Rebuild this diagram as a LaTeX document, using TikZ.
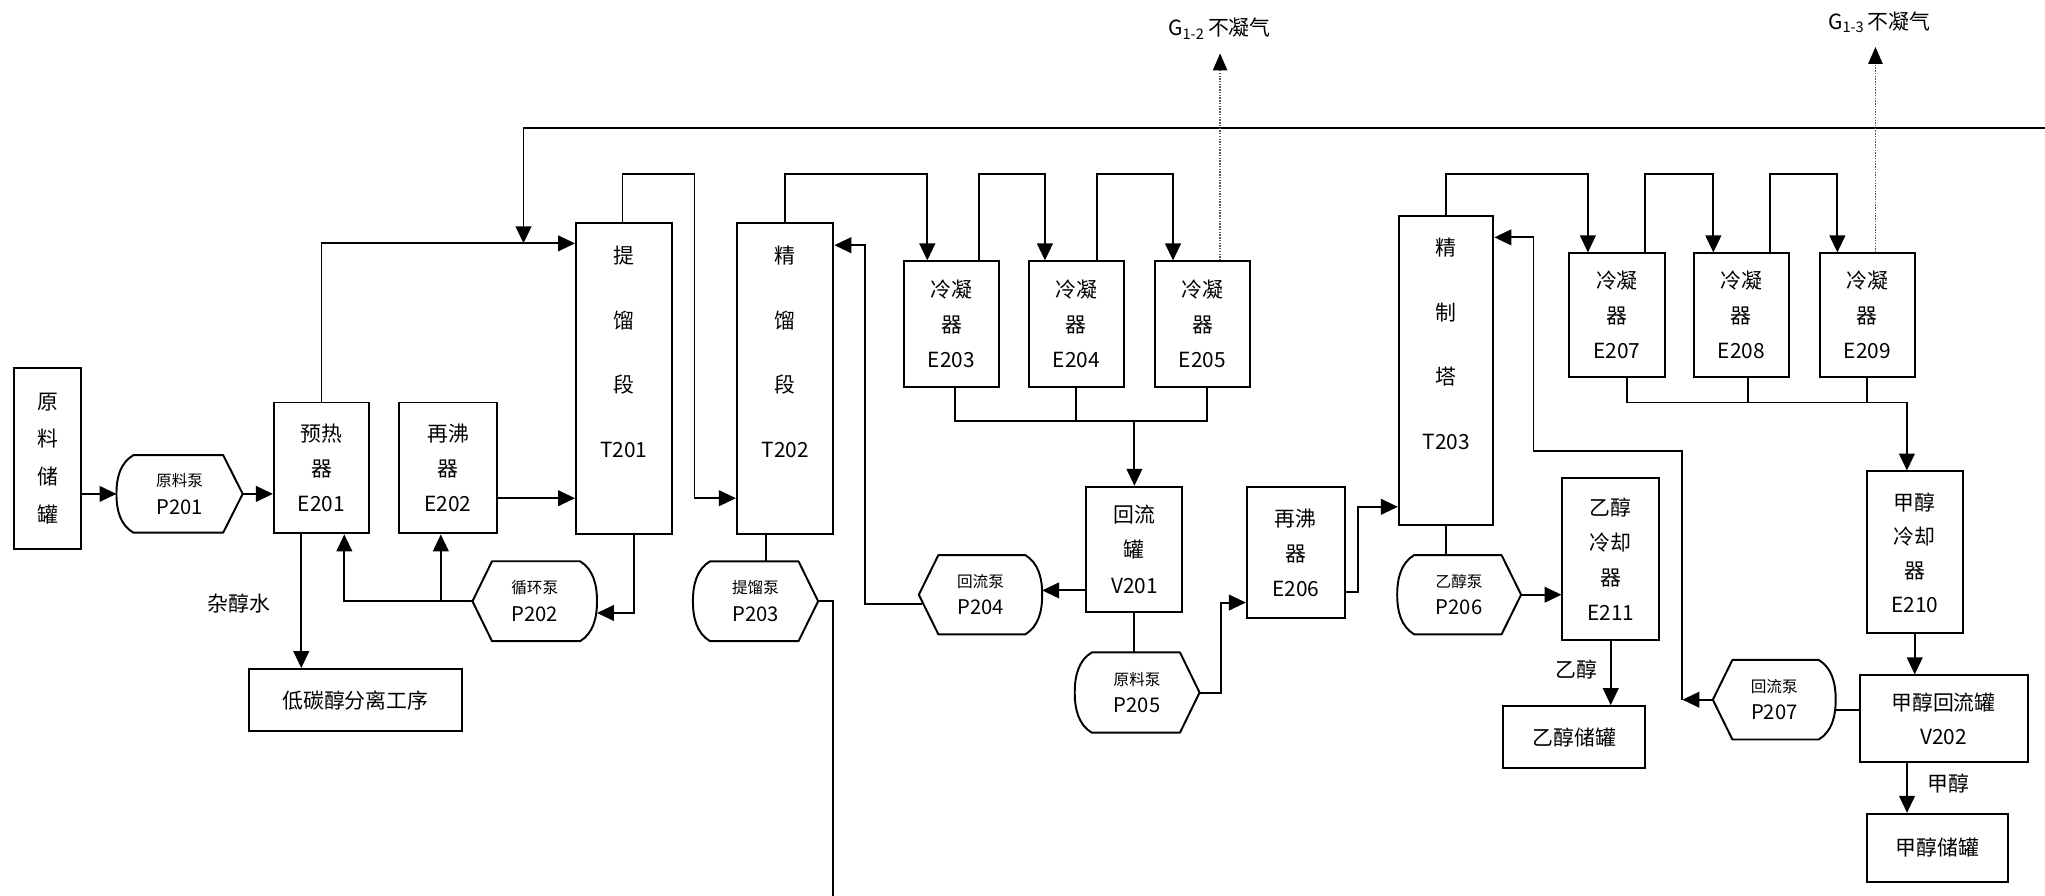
\documentclass[tikz,border=0pt]{standalone}
\usepackage{fontspec}
\setmainfont{Noto Sans CJK SC}
\usetikzlibrary{arrows.meta,calc}
\newcommand\pumpR[1]{\draw[line join=round] ($(#1.north west)+(13,0)$) -- ($(#1.north east)+(-15,0)$) -- (#1.east) -- ($(#1.south east)+(-15,0)$) -- ($(#1.south west)+(13,0)$) .. controls ($(#1.south west)+(3,-6)$) and ($(#1.west)+(0,13)$) .. (#1.west) .. controls ($(#1.west)+(0,-13)$) and ($(#1.north west)+(3,6)$) .. cycle;}
\newcommand\pumpL[1]{\draw[line join=round] ($(#1.north east)+(-13,0)$) -- ($(#1.north west)+(15,0)$) -- (#1.west) -- ($(#1.south west)+(15,0)$) -- ($(#1.south east)+(-13,0)$) .. controls ($(#1.south east)+(-3,-6)$) and ($(#1.east)+(0,13)$) .. (#1.east) .. controls ($(#1.east)+(0,-13)$) and ($(#1.north east)+(-3,6)$) .. cycle;}
\begin{document}
\begin{tikzpicture}[x=1pt,y=-1pt,line width=1.5pt,
  box/.style={draw, inner sep=0pt, align=center, font=\fontsize{16}{27}\selectfont},
  sz/.style 2 args={minimum width=#1pt, minimum height=#2pt},
  pump/.style={inner sep=0pt, align=center, font=\fontsize{15.5}{21}\selectfont},
  tw/.style={inner sep=0pt, align=center, font=\fontsize{16}{49.6}\selectfont},
  txt/.style={inner sep=0pt, font=\fontsize{16}{20}\selectfont},
  arr/.style={-{Triangle[length=13pt,width=12pt]}},
  dotl/.style={densely dotted, line width=1.1pt, draw=black!65, -{Triangle[length=13pt,width=11pt,color=black]}}]
\fill[white] (0,0) rectangle (1568,687);
\useasboundingbox (0,0) rectangle (1568,687);

% ---------- nodes ----------
\node[box, sz={51}{139}, font=\fontsize{16}{29}\selectfont] (tank) at (36.5,351.5) {原\\料\\储\\罐};
\node[pump, sz={95.3}{58}] (P201) at (137.7,378.7) {{\fontsize{12}{14}\selectfont 原料泵}\\P201};
\node[box, sz={73}{100.4}] (E201) at (246.5,358.8) {预热\\器\\E201};
\node[box, sz={75}{100.4}] (E202) at (343.5,358.8) {再沸\\器\\E202};
\node[box, sz={163}{47.6}] (low) at (272.5,536.8) {低碳醇分离工序};
\node[pump, sz={94}{59.8}] (P202) at (410,461) {{\fontsize{12}{14}\selectfont 循环泵}\\P202};
\node[box, sz={73.3}{238.2}] (T201) at (478.3,290.4) {};
\node[tw] (T201t) at ($(T201.north)+(0,99.2)$) {提\\馏\\段\\T201};
\node[box, sz={74}{238.2}] (T202) at (602,290.4) {};
\node[tw] (T202t) at ($(T202.north)+(0,99.2)$) {精\\馏\\段\\T202};
\node[pump, sz={94.5}{59.6}] (P203) at (579.3,461) {{\fontsize{12}{14}\selectfont 提馏泵}\\P203};
\node[box, sz={72.6}{96.1}] (E203) at (729.5,248.5) {冷凝\\器\\E203};
\node[box, sz={72.9}{96.1}] (E204) at (825.2,248.5) {冷凝\\器\\E204};
\node[box, sz={72.9}{96.1}] (E205) at (922,248.5) {冷凝\\器\\E205};
\node[box, sz={73.6}{95.8}] (V201) at (869.8,421.1) {回流\\罐\\V201};
\node[pump, sz={93.1}{59.3}] (P204) at (751.8,456) {{\fontsize{12}{14}\selectfont 回流泵}\\P204};
\node[pump, sz={94.2}{60}] (P205) at (871.9,531) {{\fontsize{12}{14}\selectfont 原料泵}\\P205};
\node[box, sz={75}{101}] (E206) at (993.5,423.7) {再沸\\器\\E206};
\node[box, sz={72.5}{236.8}] (T203) at (1108.8,284.2) {};
\node[tw] (T203t) at ($(T203.north)+(0,98.7)$) {精\\制\\塔\\T203};
\node[pump, sz={93.5}{59.3}] (P206) at (1118.8,456) {{\fontsize{12}{14}\selectfont 乙醇泵}\\P206};
\node[box, sz={74}{124}] (E211) at (1235,428.8) {乙醇\\冷却\\器\\E211};
\node[box, sz={108.7}{47.8}] (etank) at (1207,565.3) {乙醇储罐};
\node[box, sz={73.6}{94.6}] (E207) at (1239.8,241.6) {冷凝\\器\\E207};
\node[box, sz={72.6}{94.6}] (E208) at (1335.2,241.6) {冷凝\\器\\E208};
\node[box, sz={72.6}{94.6}] (E209) at (1431.8,241.6) {冷凝\\器\\E209};
\node[box, sz={73.8}{124.2}, font=\fontsize{16}{26}\selectfont] (E210) at (1468.1,423.6) {甲醇\\冷却\\器\\E210};
\node[box, sz={128.8}{66.3}, font=\fontsize{16}{26}\selectfont] (V202) at (1490.2,551) {甲醇回流罐\\V202};
\node[pump, sz={92.7}{59.5}] (P207) at (1360.4,536.5) {{\fontsize{12}{14}\selectfont 回流泵}\\P207};
\node[box, sz={108.5}{52}] (mtank) at (1485.5,650) {甲醇储罐};

\pumpR{P201} \pumpL{P202} \pumpR{P203} \pumpL{P204} \pumpR{P205} \pumpR{P206} \pumpL{P207}

% labels
\node[txt] (zcs) at (183,463) {杂醇水};
\node[txt] (ylab) at (1209,513) {乙醇};
\node[txt] (mlab) at (1494,601) {甲醇};
\node[txt] (g12) at (935,22) {G\textsubscript{1-2}\,不凝气};
\node[txt] (g13) at (1441,17) {G\textsubscript{1-3}\,不凝气};

% ---------- helper coordinates ----------
\coordinate (rr) at (1568,98.4);
\coordinate (tl) at (401.4,98.4);
\coordinate (j1) at (401.4,186.6);
\coordinate (h382) at (0,382);
\coordinate (h470) at (0,470);
\coordinate (hTop) at (0,133.6);
\coordinate (x532) at (532.5,0);
\coordinate (x638) at (638.5,687);
\coordinate (h322) at (0,322.6);
\coordinate (h453) at (0,452.7);
\coordinate (x663) at (663,188);
\coordinate (x936) at (936.3,462);
\coordinate (h4537) at (0,453.7);
\coordinate (c1041) at (1041.3,388.6);
\coordinate (h41) at (0,41);
\coordinate (h36) at (0,36);
\coordinate (h308) at (0,308.6);
\coordinate (h544) at (0,544.5);
\coordinate (x1290) at (1290,345.8);
\coordinate (c1176) at (1175.8,182);

% ---------- connectors ----------
\draw[arr] (tank.east |- P201.west) -- (P201.west);
\draw[arr] (P201.east) -- (E201.west |- P201.east);
\draw[arr] (E201.north) |- (T201.west |- j1);
\draw[arr] (rr) -- (tl) -- (j1);
\draw[arr] (E202.east |- h382) -- (T201.west |- h382);
\draw[arr] ($(E201.south)+(-15.5,0)$) coordinate (e201o) -- (e201o |- low.north);
\draw[arr] ($(T201.south)+(8,0)$) coordinate (t201b) -- (t201b |- h470) -- (P202.east |- h470);
\draw[arr] (P202.west) -| ($(E201.south)+(17.5,0)$);
\coordinate (e202i) at ($(E202.south)+(-5.5,0)$);
\draw[arr] (e202i |- P202.west) -- (e202i);
\draw[arr] ($(T201.north)+(-1,0)$) coordinate (t201t) -- (t201t |- hTop) -- (x532 |- hTop) -- (x532 |- h382) -- (T202.west |- h382);
\draw ($(T202.south)+(-15,0)$) coordinate (t202b) -- (t202b |- P203.north);
\draw (P203.east) -- (P203.east -| x638) -- (x638);
\draw[arr] (T202.north) -- (T202.north |- hTop) -| ($(E203.north)+(-18.5,0)$);
\draw[arr] ($(E203.north)+(21,0)$) coordinate (e203o) -- (e203o |- hTop) -| ($(E204.north)+(-24,0)$);
\draw[arr] ($(E204.north)+(15.6,0)$) coordinate (e204o) -- (e204o |- hTop) -| ($(E205.north)+(-22.6,0)$);
\draw[dotl] ($(E205.north)+(13.5,0)$) coordinate (e205o) -- (e205o |- h41);
\draw ($(E203.south)+(2.5,0)$) coordinate (e203b) -- (e203b |- h322) -- ($(E205.south |- h322)+(3.5,0)$) coordinate (e205c) -- (e205c |- E205.south);
\draw (E204.south) -- (E204.south |- h322);
\draw[arr] (V201.north |- h322) -- (V201.north);
\draw[arr] (V201.west |- h453) -- (P204.east |- h453);
\draw[arr] ($(P204.west)+(2.6,7)$) coordinate (p204o) -- (p204o -| x663) -- (x663) -- (T202.east |- x663);
\draw (V201.south) -- (V201.south |- P205.north);
\draw[arr] (P205.east) -- (P205.east -| x936) -- (x936) -- (E206.west |- x936);
\draw[arr] (E206.east |- h4537) -- (c1041 |- h4537) -- (c1041) -- (T203.west |- c1041);
\draw (T203.south) -- (T203.south |- P206.north);
\draw[arr] (P206.east) -- (E211.west |- P206.east);
\draw[arr] (E211.south) -- (E211.south |- etank.north);
\draw[arr] (T203.north) -- (T203.north |- hTop) -| ($(E207.north)+(-22.3,0)$);
\draw[arr] ($(E207.north)+(21.7,0)$) coordinate (e207o) -- (e207o |- hTop) -| ($(E208.north)+(-21.5,0)$);
\draw[arr] ($(E208.north)+(22,0)$) coordinate (e208o) -- (e208o |- hTop) -| ($(E209.north)+(-23,0)$);
\draw[dotl] ($(E209.north)+(6.2,0)$) coordinate (e209o) -- (e209o |- h36);
\coordinate (e210i) at ($(E210.north)+(-6,0)$);
\draw ($(E207.south)+(7.6,0)$) coordinate (e207b) -- (e207b |- h308) -- (e210i |- h308);
\draw ($(E208.south)+(5,0)$) coordinate (e208b) -- (e208b |- h308);
\draw (E209.south) -- (E209.south |- h308);
\draw[arr] (e210i |- h308) -- (e210i);
\draw[arr] (E210.south) -- (E210.south |- V202.north);
\draw (V202.west |- h544) -- (P207.east |- h544);
\draw[arr] (P207.west) -- (P207.west -| x1290);
\draw[arr] (P207.west -| x1290) -- (x1290) -- (c1176 |- x1290) -- (c1176) -- (T203.east |- c1176);
\coordinate (v202o) at ($(V202.south)+(-28,0)$);
\draw[arr] (v202o) -- (v202o |- mtank.north);
\end{tikzpicture}
\end{document}
